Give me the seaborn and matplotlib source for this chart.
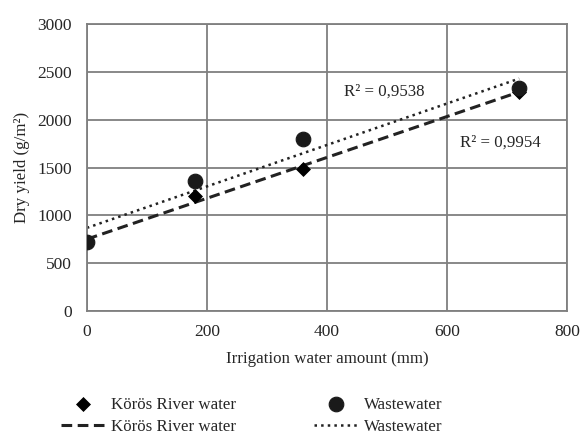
import numpy as np
import pandas as pd
import matplotlib
matplotlib.use("Agg")
import matplotlib.pyplot as plt
import seaborn as sns

# ---- data ----
water_mm = [0, 180, 360, 720]
koros_yield = [720, 1200, 1490, 2290]
waste_yield = [720, 1360, 1800, 2330]
r2_labels = ["R² = 0,9538", "R² = 0,9954"]

sns.set_style("white")
plt.rcParams["font.family"] = ["Liberation Serif", "DejaVu Serif"]

df = pd.DataFrame({"water": water_mm, "koros": koros_yield, "waste": waste_yield})

fig = plt.figure(figsize=(5.83, 4.37), dpi=100)
ax = fig.add_axes([0.149, 0.288, 0.824, 0.657])

grey = "#7f7f7f"

sns.scatterplot(data=df, x="water", y="koros", marker="D", s=50, color="black",
                edgecolor="black", ax=ax, zorder=3)
sns.scatterplot(data=df, x="water", y="waste", marker="o", s=110, color="#1a1a1a",
                edgecolor="#1a1a1a", ax=ax, zorder=3)
sns.regplot(data=df, x="water", y="koros", ci=None, scatter=False, ax=ax,
            line_kws=dict(color="#222222", lw=2.2, dashes=(3.5, 1.8)))
sns.regplot(data=df, x="water", y="waste", ci=None, scatter=False, ax=ax,
            line_kws=dict(color="#222222", lw=1.8, linestyle=":"))

ax.set_xlim(0, 800)
ax.set_ylim(0, 3000)
ax.set_xticks(range(0, 801, 200))
ax.set_yticks(range(0, 3001, 500))
ax.grid(True, color=grey, lw=1.3)
for s in ax.spines.values():
    s.set_color(grey)
    s.set_linewidth(1.3)
ax.tick_params(labelsize=12.5, length=0)
ax.tick_params(axis="x", pad=9)
ax.tick_params(axis="y", pad=11)
ax.set_xlabel("Irrigation water amount (mm)", fontsize=12.2, labelpad=8)
ax.set_ylabel("Dry yield (g/m²)", fontsize=12.2, labelpad=5)

ax.text(428, 2290, r2_labels[0], fontsize=12.2, ha="left", va="center")
ax.text(622, 1765, r2_labels[1], fontsize=12.2, ha="left", va="center")

# legend: markers on the first row, fit lines on the second
handles = [ax.collections[0], ax.lines[0], ax.collections[1], ax.lines[1]]
labels = ["Körös River water", "Körös River water", "Wastewater", "Wastewater"]
fig.legend(handles, labels, ncol=2,
           loc="upper left", bbox_to_anchor=(0.093, 0.108), frameon=False,
           fontsize=12.2, columnspacing=4.6, handlelength=2.55, handletextpad=0.4,
           labelspacing=0.35, borderaxespad=0)

fig.savefig("out.png", dpi=100)
